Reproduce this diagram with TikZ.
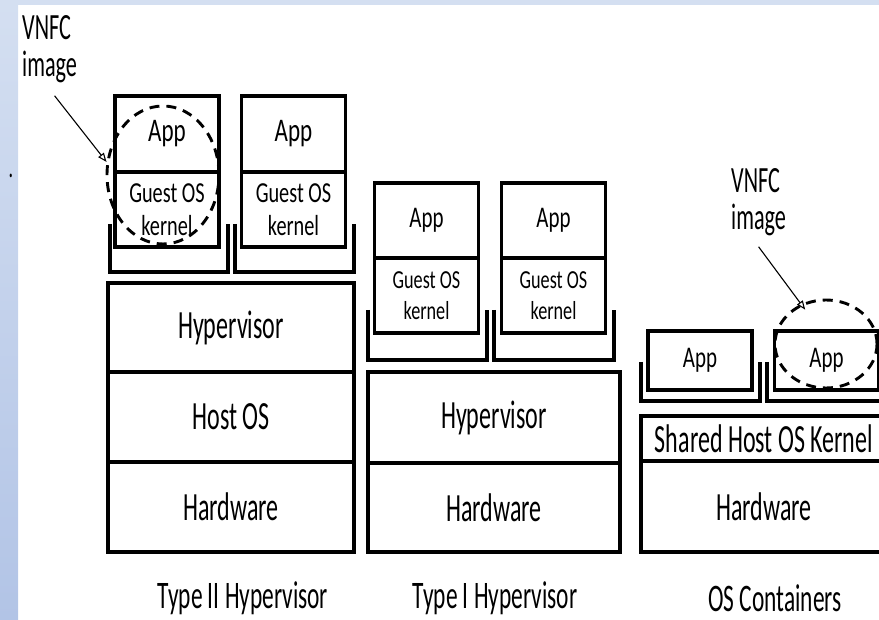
\documentclass[tikz,border=0pt]{standalone}
\usepackage{fontspec}
\setmainfont{Carlito}[FakeStretch=0.6]
\newfontfamily\vmfont{Carlito}[FakeStretch=0.7]
\usetikzlibrary{positioning,shapes.geometric,arrows.meta}
\definecolor{slideblue}{RGB}{178,196,230}
\definecolor{slidelight}{RGB}{212,223,241}
\tikzset{
  layer/.style={draw, line width=3.1pt, inner sep=0pt, minimum width=246pt, font=\fontsize{40}{44}\selectfont},
  vmbox/.style={draw, line width=3.1pt, inner sep=0pt, minimum width=104pt, minimum height=75pt, align=center, font=\vmfont\fontsize{29}{33}\selectfont},
  appbox/.style={vmbox, font=\vmfont\fontsize{33}{36}\selectfont},
  tray/.style={line width=4.3pt},
  vnfc/.style={draw, ellipse, inner sep=0pt, line width=2.9pt, dash pattern=on 10pt off 7pt},
  caption/.style={font=\fontsize{39}{44}\selectfont},
  pointer/.style={-{Triangle[open,length=9pt,width=7pt]}, line width=1.1pt}
}
\begin{document}
\begin{tikzpicture}[x=1pt,y=-1pt]
\useasboundingbox (0,0) rectangle (879,620);
\clip (0,0) rectangle (879,620);
% slide background
\shade[top color=slidelight, bottom color=slideblue] (0,0) rectangle (18,620);
\fill[slidelight] (18,0) rectangle (879,5);
\node[font=\fontsize{30}{30}\selectfont] (dot) at (11,176) {.};

% type II hypervisor
\node[layer, minimum height=89pt] (HVtwo) at (231,327.5) {Hypervisor};
\node[layer, minimum height=90pt, on grid, below=89.5pt of HVtwo] (HostOS) {Host OS};
\node[layer, minimum height=90pt, on grid, below=90pt of HostOS] (HWtwo) {Hardware};
\draw[tray] (110,224) |- (228,272) -- (228,224);
\draw[tray] (235,224) |- (354,272) -- (354,224);
\node[appbox, minimum height=76pt] (AppA) at (167,134) {App};
\node[vmbox, on grid, below=75.5pt of AppA] (GuestA) {Guest OS\\kernel};
\node[appbox, minimum height=76pt] (AppB) at (293.5,134) {App};
\node[vmbox, on grid, below=75.5pt of AppB] (GuestB) {Guest OS\\kernel};
\node[caption] (TypeTwo) at (243,598) {Type II Hypervisor};

% type I hypervisor
\node[layer, minimum width=252pt, minimum height=91pt] (HVone) at (494,417.5) {Hypervisor};
\node[layer, minimum width=252pt, minimum height=89pt, on grid, below=90pt of HVone] (HWone) {Hardware};
\draw[tray] (368,310) |- (487,360) -- (487,310);
\draw[tray] (494,310) |- (614,360) -- (614,310);
\node[appbox, font=\vmfont\fontsize{30}{33}\selectfont] (AppC) at (426.5,220.5) {App};
\node[vmbox, font=\vmfont\fontsize{26}{31}\selectfont, on grid, below=75pt of AppC] (GuestC) {Guest OS\\kernel};
\node[appbox, font=\vmfont\fontsize{30}{33}\selectfont] (AppD) at (553.5,220.5) {App};
\node[vmbox, font=\vmfont\fontsize{26}{31}\selectfont, on grid, below=75pt of AppD] (GuestD) {Guest OS\\kernel};
\node[caption] (TypeOne) at (495,598) {Type I Hypervisor};

% os containers
\node[layer, minimum height=45pt] (Kernel) at (764,438.5) {Shared Host OS Kernel};
\node[layer, minimum height=91pt, on grid, below=68pt of Kernel] (HWcont) {Hardware};
\draw[tray] (641,362) |- (760,401) -- (760,362);
\draw[tray] (767,362) |- (886,401) -- (886,362);
\node[appbox, minimum height=59pt, font=\vmfont\fontsize{30}{33}\selectfont] (AppE) at (700,360.5) {App};
\node[appbox, minimum height=59pt, font=\vmfont\fontsize{30}{33}\selectfont] (AppF) at (826.5,360.5) {App};
\node[caption] (Cont) at (775,598) {OS Containers};

% vnfc images
\node[vnfc, minimum width=112pt, minimum height=138pt] (ImgA) at (163,175) {};
\node[anchor=north west, inner sep=0pt, align=left, font=\fontsize{37}{37}\selectfont] (VnfcA) at (22,15) {VNFC\\image};
\draw[pointer] ([shift={(5,13)}]VnfcA.south) -- (ImgA.167);
\node[vnfc, minimum width=102pt, minimum height=88pt] (ImgB) at (826,344) {};
\node[anchor=north west, inner sep=0pt, align=left, font=\fontsize{37}{37}\selectfont] (VnfcB) at (731,168) {VNFC\\image};
\draw[pointer, shorten >=-7pt] ([shift={(0,11)}]VnfcB.south) -- (ImgB.122);
\end{tikzpicture}
\end{document}
